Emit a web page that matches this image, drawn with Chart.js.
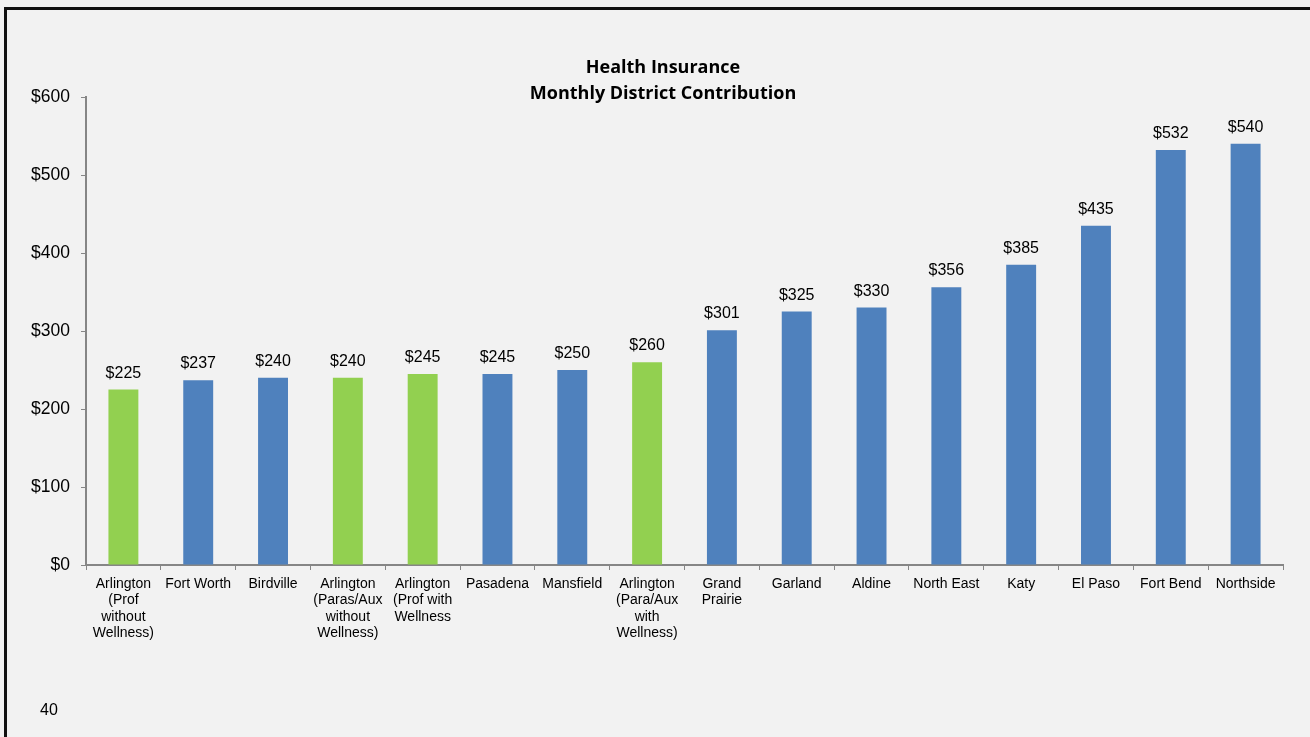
<!DOCTYPE html>
<html>
<head>
<meta charset="utf-8">
<script src="https://cdn.jsdelivr.net/npm/chart.js@4.4.1/dist/chart.umd.min.js"></script>
<style>
  html, body { margin: 0; padding: 0; background: #f2f2f2; width: 1310px; height: 737px; overflow: hidden; }
  #frame { position: absolute; left: 4px; top: 7px; width: 1400px; height: 800px; border-left: 3px solid #111; border-top: 3px solid #111; box-sizing: border-box; }
  #wrap { position: absolute; left: 0; top: 0; width: 1310px; height: 737px; }
  #pagenum { position: absolute; left: 40px; top: 701px; font-family: "Liberation Sans", Arial, sans-serif; font-size: 16px; color: #000; }
</style>
</head>
<body>
<div id="frame"></div>
<div id="wrap"><canvas id="c" width="1310" height="737"></canvas></div>
<div id="pagenum">40</div>
<script>
const titleLines = ["Health Insurance", "Monthly District Contribution"];
const categories = [
  ["Arlington", "(Prof", "without", "Wellness)"],
  "Fort Worth",
  "Birdville",
  ["Arlington", "(Paras/Aux", "without", "Wellness)"],
  ["Arlington", "(Prof with", "Wellness"],
  "Pasadena",
  "Mansfield",
  ["Arlington", "(Para/Aux", "with", "Wellness)"],
  ["Grand", "Prairie"],
  "Garland",
  "Aldine",
  "North East",
  "Katy",
  "El Paso",
  "Fort Bend",
  "Northside"
];
const contributions = [225, 237, 240, 240, 245, 245, 250, 260, 301, 325, 330, 356, 385, 435, 532, 540];
const isArlington = [true, false, false, true, true, false, false, true, false, false, false, false, false, false, false, false];
const yTicks = [0, 100, 200, 300, 400, 500, 600];

const GREEN = "#92d050";
const BLUE = "#4f81bd";
const AXIS = "#868686";
const FONT = "'Liberation Sans', Arial, sans-serif";

const valueLabels = {
  id: "valueLabels",
  afterDatasetsDraw(chart) {
    const ctx = chart.ctx;
    const meta = chart.getDatasetMeta(0);
    ctx.save();
    ctx.font = "16px " + FONT;
    ctx.fillStyle = "#000";
    ctx.textAlign = "center";
    ctx.textBaseline = "alphabetic";
    meta.data.forEach((bar, i) => {
      ctx.fillText("$" + contributions[i], bar.x, bar.y - 12);
    });
    ctx.restore();
  }
};

const chartTitle = {
  id: "chartTitle",
  afterDraw(chart) {
    const ctx = chart.ctx;
    ctx.save();
    ctx.font = "bold 18px 'Open Sans', sans-serif";
    ctx.fillStyle = "#000";
    ctx.textAlign = "center";
    ctx.textBaseline = "middle";
    ctx.fillText(titleLines[0], 663, 68);
    ctx.fillText(titleLines[1], 663, 94);
    ctx.restore();
  }
};

new Chart(document.getElementById("c"), {
  type: "bar",
  data: {
    labels: categories,
    datasets: [{
      data: contributions,
      backgroundColor: contributions.map((v, i) => isArlington[i] ? GREEN : BLUE),
      borderWidth: 0,
      barPercentage: 0.5,
      categoryPercentage: 0.8
    }]
  },
  options: {
    responsive: false,
    animation: false,
    devicePixelRatio: 1,
    layout: { padding: { top: 97, left: 0, right: 27, bottom: 72 } },
    plugins: {
      legend: { display: false },
      title: { display: false },
      tooltip: { enabled: false }
    },
    scales: {
      x: {
        grid: { display: true, drawOnChartArea: false, drawTicks: true, tickLength: 5, color: AXIS, lineWidth: 1, offset: true },
        border: { display: true, color: AXIS, width: 2 },
        ticks: { color: "#000", font: { family: FONT, size: 14, lineHeight: 1.17 }, padding: 6, maxRotation: 0, minRotation: 0, autoSkip: false },
        afterFit(scale) { scale.height = 100; }
      },
      y: {
        min: 0,
        max: 600,
        afterBuildTicks(scale) { scale.ticks = yTicks.map(v => ({ value: v })); },
        grid: { display: true, drawOnChartArea: false, drawTicks: true, tickLength: 5, color: AXIS, lineWidth: 1 },
        border: { display: true, color: AXIS, width: 2 },
        ticks: { color: "#000", font: { family: FONT, size: 17.5 }, padding: 11, callback: v => "$" + v },
        afterFit(scale) { scale.width = 86; }
      }
    }
  },
  plugins: [valueLabels, chartTitle]
});
</script>
</body>
</html>
